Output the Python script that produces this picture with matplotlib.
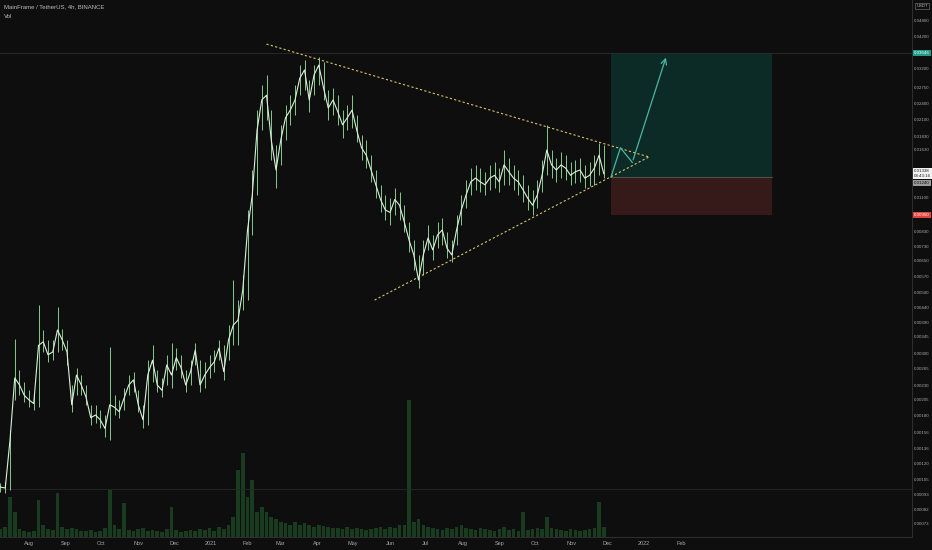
import matplotlib
matplotlib.use("Agg")
import matplotlib.pyplot as plt
import matplotlib.dates as mdates
import pandas as pd
from matplotlib.patches import Rectangle
from matplotlib.ticker import NullLocator
from matplotlib.transforms import blended_transform_factory

# ---------------- data ----------------
title = "MainFrame / TetherUS, 4h, BINANCE"
start_date = "2020-07-08"
step_days = 4

close = [0.000989, 0.000981, 0.00146, 0.00245, 0.00231, 0.00212, 0.00204, 0.00198, 0.00321, 0.00331,
         0.00297, 0.00304, 0.00365, 0.00336, 0.00304, 0.00196, 0.00251, 0.00231, 0.00209, 0.00176,
         0.00180, 0.00173, 0.00161, 0.00196, 0.00192, 0.00185, 0.00207, 0.00231, 0.00241, 0.00196,
         0.00173, 0.00251, 0.00284, 0.00231, 0.00221, 0.00273, 0.00251, 0.00290, 0.00267, 0.00231,
         0.00258, 0.00309, 0.00231, 0.00251, 0.00267, 0.00280, 0.00314, 0.00258, 0.00336, 0.00380,
         0.00396, 0.00509, 0.00838, 0.0112, 0.0192, 0.0247, 0.0257, 0.0177, 0.0138, 0.0177,
         0.0213, 0.0227, 0.0247, 0.0296, 0.0317, 0.0247, 0.0304, 0.0330, 0.0273, 0.0231,
         0.0247, 0.0224, 0.0201, 0.0213, 0.0227, 0.0192, 0.0166, 0.0156, 0.0138, 0.0122,
         0.0108, 0.0099, 0.0097, 0.0108, 0.0103, 0.00896, 0.00771, 0.00681, 0.00553, 0.00681,
         0.00784, 0.00710, 0.00804, 0.00838, 0.00720, 0.00681, 0.00838, 0.0099, 0.0112, 0.0125,
         0.0129, 0.0125, 0.0122, 0.0129, 0.0132, 0.0125, 0.0144, 0.0136, 0.0129, 0.0125,
         0.0117, 0.0109, 0.0103, 0.0112, 0.0132, 0.0163, 0.0144, 0.0138, 0.0144, 0.0140,
         0.0132, 0.0136, 0.0138, 0.0129, 0.0132, 0.0140, 0.0156, 0.01338]

high = [0.00102, 0.00103, 0.00159, 0.00340, 0.00262, 0.00237, 0.00221, 0.00216, 0.00449, 0.00365,
        0.00336, 0.00336, 0.00442, 0.00369, 0.00336, 0.00231, 0.00267, 0.00251, 0.00231, 0.00196,
        0.00196, 0.00188, 0.00180, 0.00316, 0.00212, 0.00204, 0.00225, 0.00251, 0.00258, 0.00221,
        0.00196, 0.00284, 0.00321, 0.00262, 0.00245, 0.00297, 0.00328, 0.00314, 0.00297, 0.00262,
        0.00284, 0.00328, 0.00284, 0.00280, 0.00297, 0.00309, 0.00336, 0.00321, 0.00380, 0.00553,
        0.00468, 0.00576, 0.00990, 0.0138, 0.0227, 0.0280, 0.0304, 0.0227, 0.0170, 0.0201,
        0.0237, 0.0257, 0.0280, 0.0330, 0.0344, 0.0292, 0.0330, 0.0353, 0.0339, 0.0268,
        0.0273, 0.0257, 0.0227, 0.0237, 0.0257, 0.0218, 0.0185, 0.0177, 0.0156, 0.0138,
        0.0122, 0.0112, 0.0109, 0.0119, 0.0115, 0.0103, 0.00896, 0.00771, 0.00681, 0.00771,
        0.00874, 0.00804, 0.00896, 0.00925, 0.00824, 0.00771, 0.0095, 0.0112, 0.0127, 0.0140,
        0.0144, 0.0140, 0.0136, 0.0144, 0.0148, 0.0140, 0.0163, 0.0153, 0.0144, 0.0138,
        0.0132, 0.0122, 0.0117, 0.0127, 0.0150, 0.0201, 0.0163, 0.0153, 0.0160, 0.0156,
        0.0148, 0.0150, 0.0153, 0.0144, 0.0148, 0.0156, 0.0173, 0.0170]

low = [0.000950, 0.000942, 0.000966, 0.00204, 0.00212, 0.00201, 0.00192, 0.00188, 0.00192, 0.00304,
       0.00280, 0.00284, 0.00304, 0.00309, 0.00273, 0.00184, 0.00212, 0.00212, 0.00196, 0.00166,
       0.00169, 0.00161, 0.00150, 0.00146, 0.00180, 0.00176, 0.00188, 0.00212, 0.00218, 0.00185,
       0.00161, 0.00166, 0.00237, 0.00218, 0.00209, 0.00231, 0.00225, 0.00262, 0.00245, 0.00218,
       0.00231, 0.00273, 0.00218, 0.00225, 0.00245, 0.00258, 0.00284, 0.00241, 0.00284, 0.00321,
       0.00321, 0.00431, 0.00468, 0.00804, 0.0112, 0.0192, 0.0209, 0.0150, 0.0119, 0.0144,
       0.0177, 0.0201, 0.0218, 0.0257, 0.0268, 0.0224, 0.0257, 0.0280, 0.0247, 0.0209,
       0.0218, 0.0201, 0.0180, 0.0192, 0.0196, 0.0174, 0.0150, 0.0140, 0.0125, 0.0109,
       0.0097, 0.00911, 0.00874, 0.0095, 0.00911, 0.00824, 0.00698, 0.00601, 0.00518, 0.00576,
       0.00710, 0.00653, 0.00720, 0.00739, 0.00664, 0.00642, 0.00739, 0.00874, 0.0101, 0.0112,
       0.0117, 0.0115, 0.0112, 0.0117, 0.0119, 0.0115, 0.0122, 0.0122, 0.0117, 0.0112,
       0.0106, 0.0099, 0.0095, 0.0101, 0.0115, 0.0132, 0.0129, 0.0125, 0.0129, 0.0127,
       0.0122, 0.0124, 0.0125, 0.0119, 0.0121, 0.0122, 0.0132, 0.0129]

volume_m = [8, 10, 40, 25, 8, 6, 5, 6, 37, 12,
            8, 7, 44, 10, 8, 9, 8, 6, 6, 7,
            5, 6, 9, 47, 12, 8, 34, 7, 6, 8,
            9, 6, 7, 6, 5, 8, 30, 7, 5, 6,
            7, 6, 8, 7, 9, 6, 10, 8, 12, 20,
            67, 84, 40, 57, 25, 30, 25, 20, 18, 15,
            14, 12, 15, 12, 14, 12, 10, 12, 11, 10,
            9, 9, 8, 10, 8, 9, 8, 7, 8, 9,
            10, 8, 10, 9, 12, 12, 137, 15, 18, 12,
            10, 9, 8, 7, 9, 8, 10, 12, 9, 8,
            7, 9, 8, 7, 6, 8, 10, 7, 8, 6,
            25, 7, 8, 9, 8, 20, 9, 8, 7, 6,
            8, 7, 6, 7, 8, 9, 35, 10]

month_ticks = ["2020-08-01", "2020-09-01", "2020-10-01", "2020-11-01", "2020-12-01",
               "2021-01-01", "2021-02-01", "2021-03-01", "2021-04-01", "2021-05-01",
               "2021-06-01", "2021-07-01", "2021-08-01", "2021-09-01", "2021-10-01",
               "2021-11-01", "2021-12-01", "2022-01-01", "2022-02-01"]
month_labels = ["Aug", "Sep", "Oct", "Nov", "Dec", "2021", "Feb", "Mar", "Apr", "May",
                "Jun", "Jul", "Aug", "Sep", "Oct", "Nov", "Dec", "2022", "Feb"]

price_ticks = [0.048, 0.042, 0.032, 0.0275, 0.024, 0.021, 0.0183, 0.0163, 0.0110,
               0.0083, 0.0073, 0.0065, 0.0057, 0.0050, 0.0044, 0.0039, 0.00345, 0.0030,
               0.00265, 0.0023, 0.00205, 0.0018, 0.00156, 0.00136, 0.0012, 0.00105,
               0.00093, 0.00082, 0.00073]

# long-position drawing
pos_start, pos_end = "2021-12-04", "2022-04-19"
target_price = 0.03646
entry_price = 0.0130
stop_price = 0.0095
current_price = 0.01338
current_timer = "03:43:16"
grey_price = 0.01240
hline_low = 0.00097

# triangle trend lines
upper_dates = ["2021-02-17", "2022-01-05"]
upper_prices = [0.0393, 0.01538]
lower_dates = ["2021-05-19", "2022-01-05"]
lower_prices = [0.00468, 0.01538]

# projected path
path_dates = ["2021-12-04", "2021-12-12", "2021-12-22", "2022-01-20"]
path_prices = [0.0130, 0.0166, 0.0147, 0.0359]

# ---------------- style ----------------
bg = "#0e0e0e"
txt = "#a8a8a8"
lab_font = "Liberation Sans"
W, H = 932, 550
fig = plt.figure(figsize=(W / 100, H / 100), dpi=100, facecolor=bg)
rect = [0, 13 / H, 912 / W, 537 / H]
ax = fig.add_axes(rect)
ax.set_facecolor(bg)

dates = pd.date_range(start_date, periods=len(close), freq=f"{step_days}D")
aug1 = mdates.date2num(pd.Timestamp("2020-08-01"))
pxday = 1.1876
xmin = aug1 - 29 / pxday
xmax = xmin + 912 / pxday

# volume (behind)
axv = ax.twinx()
axv.set_ylim(0, 537)
axv.bar(dates, volume_m, width=3.0, color="#1b4224", alpha=0.9, linewidth=0)
axv.set_yticks([])
for s in axv.spines.values():
    s.set_visible(False)

ax.set_zorder(axv.get_zorder() + 1)
ax.patch.set_visible(False)
fig.patch.set_facecolor(bg)

ax.set_yscale("log")
ax.set_ylim(0.000653, 0.0567)
ax.set_xlim(xmin, xmax)

# price
ax.vlines(dates, low, high, color="#86c98f", lw=0.7, zorder=3)
ax.plot(dates, close, color="#dcefdc", lw=0.8, zorder=4)

# long position box
d0 = mdates.date2num(pd.Timestamp(pos_start))
d1 = mdates.date2num(pd.Timestamp(pos_end))
ax.add_patch(Rectangle((d0, entry_price), d1 - d0, target_price - entry_price,
                       facecolor="#0c2b26", edgecolor="none", zorder=1))
ax.add_patch(Rectangle((d0, stop_price), d1 - d0, entry_price - stop_price,
                       facecolor="#361a1a", edgecolor="none", zorder=1))
ax.plot([d0, d1], [entry_price, entry_price], color="#5a5a5a", lw=0.6, zorder=2)

# horizontal lines
ax.axhline(target_price, color="#2c2c2c", lw=0.6, zorder=1)
ax.axhline(hline_low, color="#262626", lw=0.6, zorder=1)

# triangle
ax.plot(pd.to_datetime(upper_dates), upper_prices, color="#d8c46e", lw=0.8,
        ls=(0, (2, 2)), zorder=5)
ax.plot(pd.to_datetime(lower_dates), lower_prices, color="#d8c46e", lw=0.8,
        ls=(0, (2, 2)), zorder=5)

# projection arrow
pd_dates = pd.to_datetime(path_dates)
ax.plot(pd_dates[:-1], path_prices[:-1], color="#4db6a2", lw=0.9, zorder=6)
ax.annotate("", xy=(pd_dates[-1], path_prices[-1]), xytext=(pd_dates[-2], path_prices[-2]),
            arrowprops=dict(arrowstyle="->", color="#4db6a2", lw=0.9), zorder=6)

# axes styling
for side in ["top", "left"]:
    ax.spines[side].set_visible(False)
ax.spines["right"].set_color("#2e2e2e")
ax.spines["bottom"].set_color("#2e2e2e")
ax.spines["right"].set_linewidth(0.8)
ax.spines["bottom"].set_linewidth(0.8)

ax.yaxis.tick_right()
ax.yaxis.set_minor_locator(NullLocator())
ax.set_yticks(price_ticks)
ax.set_yticklabels([f"{v:.5f}" for v in price_ticks], family=lab_font)
ax.tick_params(axis="y", length=0, pad=1.5, labelsize=3.2, labelcolor=txt)

ax.set_xticks(pd.to_datetime(month_ticks))
ax.set_xticklabels(month_labels, family=lab_font)
ax.tick_params(axis="x", length=0, pad=3, labelsize=4.0, labelcolor=txt)
ax.xaxis.set_minor_locator(NullLocator())

# price labels on axis
tr = blended_transform_factory(ax.transAxes, ax.transData)
def plabel(price, text, fc, tc):
    ax.text(1.0025, price, text, transform=tr, fontsize=3.2, color=tc, va="center", ha="left",
            family=lab_font, linespacing=1.3,
            bbox=dict(facecolor=fc, edgecolor="none", pad=0.9), clip_on=False, zorder=10)

plabel(target_price, f"{target_price:.5f}", "#1f9c88", "white")
plabel(current_price, f"{current_price:.5f}\n{current_timer}", "#f2f2f2", "#222222")
plabel(grey_price, f"{grey_price:.5f}", "#9a9a9a", "#111111")
plabel(stop_price, f"{stop_price:.5f}", "#e0423c", "white")

# header texts
fig.text(4 / W, 1 - 7 / H, title, fontsize=4.3, color="#bdbdbd", va="center", ha="left",
         family=lab_font)
fig.text(4 / W, 1 - 16 / H, "Vol", fontsize=4.3, color="#bdbdbd", va="center", ha="left",
         family=lab_font)
fig.text(922 / W, 1 - 6 / H, "USDT", fontsize=3.0, color="#bdbdbd", va="center", ha="center",
         family=lab_font, bbox=dict(facecolor=bg, edgecolor="#6a6a6a", pad=0.8, lw=0.5))

fig.savefig("out.png", dpi=100, facecolor=bg)
